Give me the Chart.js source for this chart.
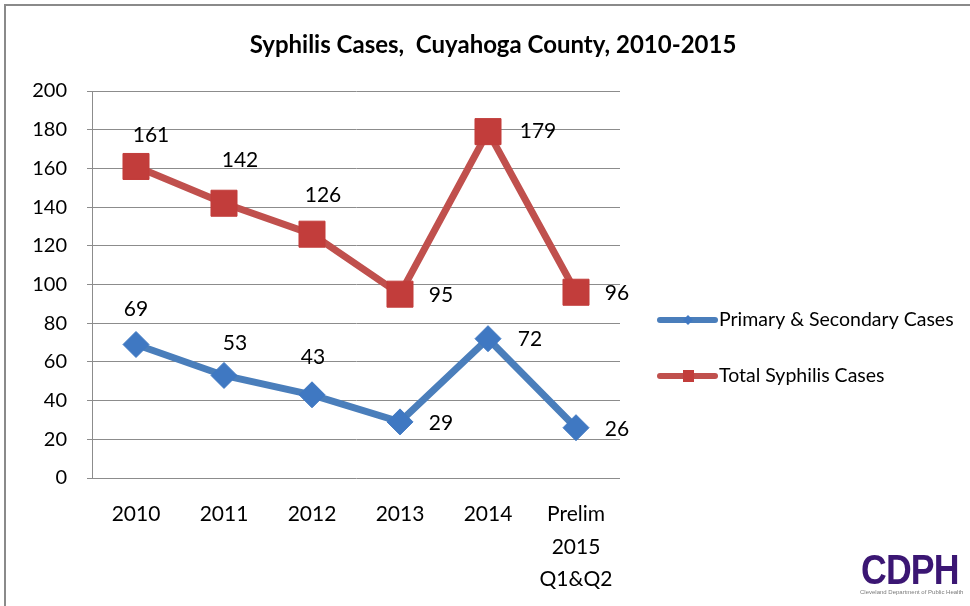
<!DOCTYPE html>
<html><head><meta charset="utf-8">
<script src="https://cdn.jsdelivr.net/npm/chart.js@4/dist/chart.umd.min.js"></script>
<style>
html,body{margin:0;padding:0;background:#fff;overflow:hidden;width:970px;height:606px}
#frame{position:absolute;left:4px;top:4px;width:1000px;height:700px;border:2px solid #8a8a8a;box-sizing:border-box}
#wrap{position:absolute;left:0;top:0;width:970px;height:606px}
#logo{position:absolute;left:861px;top:549px;font:bold 42px "Liberation Sans",Arial,sans-serif;line-height:42px;color:#3b1673;transform:scaleX(0.85);transform-origin:0 0;white-space:nowrap;letter-spacing:-1px}
#cap{position:absolute;left:860px;top:589px;font:6px "Liberation Sans",Arial,sans-serif;color:#7a7a7a;white-space:nowrap}
</style></head>
<body>
<div id="frame"></div>
<div id="wrap"><canvas id="c" width="970" height="606"></canvas></div>
<div id="logo">CDPH</div>
<div id="cap">Cleveland Department of Public Health</div>
<script>
const categories = ['2010', '2011', '2012', '2013', '2014', ['Prelim', '2015', 'Q1&Q2']];
const primarySecondary = [69, 53, 43, 29, 72, 26];
const totalSyphilis = [161, 142, 126, 95, 179, 96];
const seriesNames = ['Primary & Secondary Cases', 'Total Syphilis Cases'];
const yMin = 0, yMax = 200, yStep = 20;
const titleText = 'Syphilis Cases,  Cuyahoga County, 2010-2015';

const FONT = 'Lato, "Open Sans", sans-serif';
const BLUE = '#4a7ebb', BLUE_PT = '#3f78c2';
const RED = '#c0504d', RED_PT = '#c23d3b';

// label offsets (style only): [dx, dy] relative to the point
const labelOffsets = [
  [[0,-35],[11,-32],[1,-38],[41,1],[42,1],[41,2]],
  [[15,-31],[16,-43],[11,-39],[41,1],[50,0],[41,1]]
];

const decor = {
  id: 'decor',
  afterDatasetsDraw(chart) {
    const ctx = chart.ctx;
    ctx.save();
    ctx.fillStyle = '#000';
    ctx.font = '21px ' + FONT;
    ctx.textAlign = 'center';
    ctx.textBaseline = 'middle';
    chart.data.datasets.forEach((ds, di) => {
      const meta = chart.getDatasetMeta(di);
      meta.data.forEach((pt, i) => {
        const o = labelOffsets[di][i];
        ctx.fillText(String(ds.data[i]), pt.x + o[0], pt.y + o[1]);
      });
    });
    ctx.restore();
  },
  afterDraw(chart) {
    const ctx = chart.ctx;
    ctx.save();
    // title
    ctx.fillStyle = '#000';
    ctx.font = 'bold 24px ' + FONT;
    ctx.textAlign = 'center';
    ctx.textBaseline = 'middle';
    ctx.fillText(titleText, 493, 45);
    // legend
    const items = [
      {y: 320, color: BLUE, pt: BLUE_PT, style: 'diamond'},
      {y: 376, color: RED, pt: RED_PT, style: 'square'}
    ];
    items.forEach((it, i) => {
      ctx.strokeStyle = it.color;
      ctx.lineWidth = 6;
      ctx.lineCap = 'round';
      ctx.beginPath();
      ctx.moveTo(660, it.y);
      ctx.lineTo(715, it.y);
      ctx.stroke();
      ctx.fillStyle = it.pt;
      if (it.style === 'diamond') {
        ctx.beginPath();
        ctx.moveTo(688, it.y - 5); ctx.lineTo(693, it.y); ctx.lineTo(688, it.y + 5); ctx.lineTo(683, it.y);
        ctx.closePath(); ctx.fill();
      } else {
        ctx.fillRect(683, it.y - 6, 11, 12);
      }
      ctx.fillStyle = '#000';
      ctx.font = '19.5px ' + FONT;
      ctx.textAlign = 'left';
      ctx.textBaseline = 'middle';
      ctx.fillText(seriesNames[i], 719, it.y);
    });
    ctx.restore();
  }
};

new Chart(document.getElementById('c'), {
  type: 'line',
  data: {
    labels: categories,
    datasets: [
      {label: seriesNames[0], data: primarySecondary, borderColor: BLUE, borderWidth: 7,
       pointStyle: 'rectRot', pointRadius: 13, pointBackgroundColor: BLUE_PT, pointBorderColor: BLUE_PT,
       pointBorderWidth: 1, tension: 0, fill: false},
      {label: seriesNames[1], data: totalSyphilis, borderColor: RED, borderWidth: 7,
       pointStyle: 'rect', pointRadius: 18.4, pointBackgroundColor: RED_PT, pointBorderColor: RED_PT,
       pointBorderWidth: 1, tension: 0, fill: false}
    ]
  },
  options: {
    responsive: false,
    animation: false,
    events: [],
    layout: {padding: {left: 0, top: 91, right: 350, bottom: 0}},
    plugins: {legend: {display: false}, title: {display: false}, tooltip: {enabled: false}},
    scales: {
      x: {
        offset: true,
        grid: {display: false, drawTicks: false},
        border: {display: false},
        ticks: {color: '#000', font: {family: FONT, size: 21, lineHeight: 1.55}, padding: 20, maxRotation: 0, autoSkip: false},
        afterFit(s) { s.height = 128; }
      },
      y: {
        min: yMin, max: yMax,
        grid: {color: '#8c8c8c', lineWidth: 1, drawTicks: true, tickLength: 5},
        border: {display: true, color: '#8c8c8c', width: 1},
        ticks: {stepSize: yStep, color: '#000', font: {family: FONT, size: 20}, padding: 20},
        afterFit(s) { s.width = 92; }
      }
    }
  },
  plugins: [decor]
});
</script>
</body></html>
